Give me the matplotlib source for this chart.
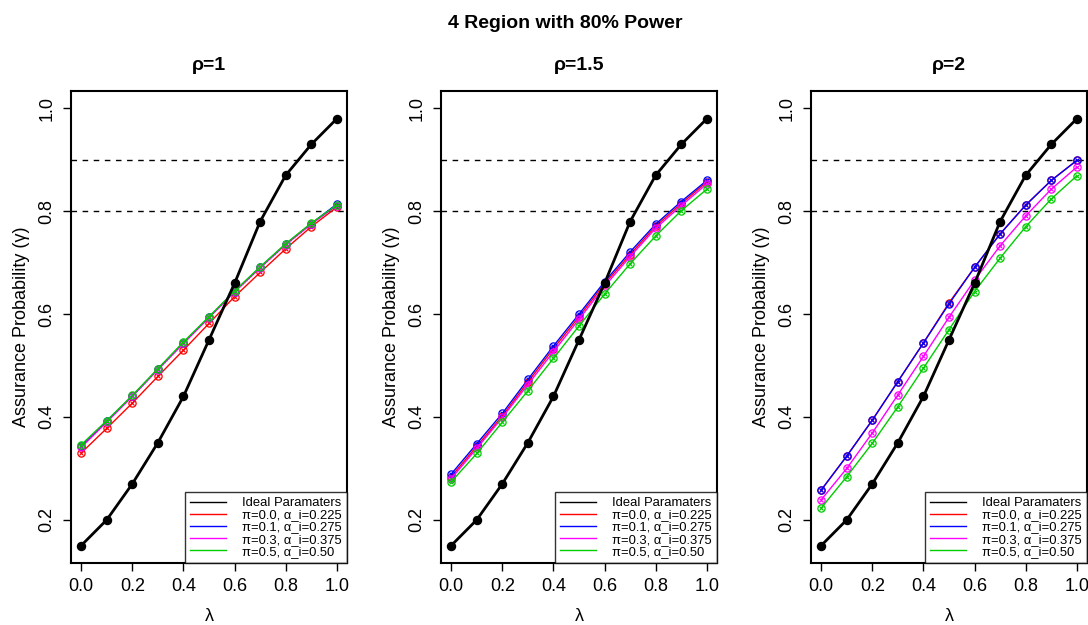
import matplotlib
matplotlib.use("Agg")
import matplotlib.pyplot as plt
from matplotlib.lines import Line2D

plt.rcParams['font.family'] = ['Liberation Sans', 'DejaVu Sans']

lam = [0.0, 0.1, 0.2, 0.3, 0.4, 0.5, 0.6, 0.7, 0.8, 0.9, 1.0]
ideal = [0.15, 0.20, 0.27, 0.35, 0.44, 0.55, 0.66, 0.78, 0.87, 0.93, 0.98]

rho_titles = ["ρ=1", "ρ=1.5", "ρ=2"]
series_labels = ["π=0.0, α_i=0.225", "π=0.1, α_i=0.275", "π=0.3, α_i=0.375", "π=0.5, α_i=0.50"]
series_colors = ["#FF0000", "#0000FF", "#FF00FF", "#00CC00"]

# rho = 1
r1_pi0 = [0.330, 0.378, 0.427, 0.479, 0.530, 0.582, 0.634, 0.681, 0.727, 0.770, 0.808]
r1_pi1 = [0.343, 0.392, 0.441, 0.493, 0.544, 0.594, 0.644, 0.691, 0.736, 0.776, 0.814]
r1_pi3 = [0.341, 0.390, 0.440, 0.492, 0.543, 0.593, 0.643, 0.690, 0.735, 0.775, 0.811]
r1_pi5 = [0.346, 0.393, 0.442, 0.494, 0.546, 0.595, 0.645, 0.692, 0.737, 0.777, 0.812]

# rho = 1.5
r15_pi0 = [0.284, 0.343, 0.402, 0.468, 0.533, 0.595, 0.659, 0.716, 0.771, 0.815, 0.857]
r15_pi1 = [0.289, 0.348, 0.407, 0.473, 0.538, 0.600, 0.663, 0.721, 0.775, 0.819, 0.860]
r15_pi3 = [0.280, 0.339, 0.399, 0.463, 0.527, 0.590, 0.654, 0.712, 0.767, 0.811, 0.853]
r15_pi5 = [0.274, 0.329, 0.390, 0.451, 0.514, 0.577, 0.639, 0.698, 0.752, 0.801, 0.843]

# rho = 2
r2_pi0 = [0.258, 0.324, 0.394, 0.469, 0.544, 0.622, 0.691, 0.756, 0.812, 0.860, 0.899]
r2_pi1 = [0.258, 0.324, 0.394, 0.469, 0.544, 0.620, 0.691, 0.756, 0.812, 0.860, 0.899]
r2_pi3 = [0.239, 0.300, 0.369, 0.443, 0.518, 0.594, 0.666, 0.733, 0.791, 0.843, 0.886]
r2_pi5 = [0.223, 0.284, 0.349, 0.420, 0.495, 0.570, 0.644, 0.709, 0.770, 0.824, 0.869]

panels = [
    [r1_pi0, r1_pi1, r1_pi3, r1_pi5],
    [r15_pi0, r15_pi1, r15_pi3, r15_pi5],
    [r2_pi0, r2_pi1, r2_pi3, r2_pi5],
]

W, H = 1088, 625
fig = plt.figure(figsize=(W / 100, H / 100), dpi=100)

lefts = [71, 441, 811]
ax_w = 276
ax_top, ax_bot = 91, 563

fig.text(565 / W, 1 - 23 / H, "4 Region with 80% Power", ha="center", va="center",
         fontsize=14, fontweight="bold")

for i, (left, series) in enumerate(zip(lefts, panels)):
    ax = fig.add_axes([left / W, 1 - ax_bot / H, ax_w / W, (ax_bot - ax_top) / H])
    ax.set_xlim(-0.04, 1.04)
    ax.set_ylim(0.116, 1.034)
    for y in (0.8, 0.9):
        ax.axhline(y, color="black", lw=1, ls=(0, (4, 4)), zorder=1)
    ax.plot(lam, ideal, color="black", lw=2.0, marker="o", ms=5.8, zorder=5)
    for vals, col in zip(series, series_colors):
        ax.plot(lam, vals, color=col, lw=1.0, marker="o", ms=5.2, mfc="none",
                mew=0.9, zorder=3)
        ax.plot(lam, vals, ls="none", color=col, marker="x", ms=3.2, mew=0.8, zorder=3)
    ax.set_xticks([0.0, 0.2, 0.4, 0.6, 0.8, 1.0])
    ax.set_yticks([0.2, 0.4, 0.6, 0.8, 1.0])
    ax.set_xticklabels(["0.0", "0.2", "0.4", "0.6", "0.8", "1.0"])
    ax.set_yticklabels(["0.2", "0.4", "0.6", "0.8", "1.0"], rotation=90, va="center")
    ax.tick_params(direction="out", length=6, width=1, labelsize=13, pad=5)
    for s in ax.spines.values():
        s.set_linewidth(1.5)
    ax.set_title(rho_titles[i], fontsize=14, fontweight="bold", pad=15)
    ax.set_xlabel("λ", fontsize=13, labelpad=9)
    ax.set_ylabel("Assurance Probability (γ)", fontsize=13, labelpad=6)
    leg_handles = [Line2D([], [], color="black", lw=1)] + \
        [Line2D([], [], color=c, lw=1) for c in series_colors]
    leg = ax.legend(leg_handles, ["Ideal Paramaters"] + series_labels, loc="lower right",
                    borderaxespad=0, fontsize=9.4, frameon=True, fancybox=False,
                    handlelength=2.8, labelspacing=0.0, borderpad=0.4,
                    handletextpad=1.2)
    leg.get_frame().set_edgecolor("black")
    leg.get_frame().set_linewidth(1.0)

fig.savefig("out.png", dpi=100)
